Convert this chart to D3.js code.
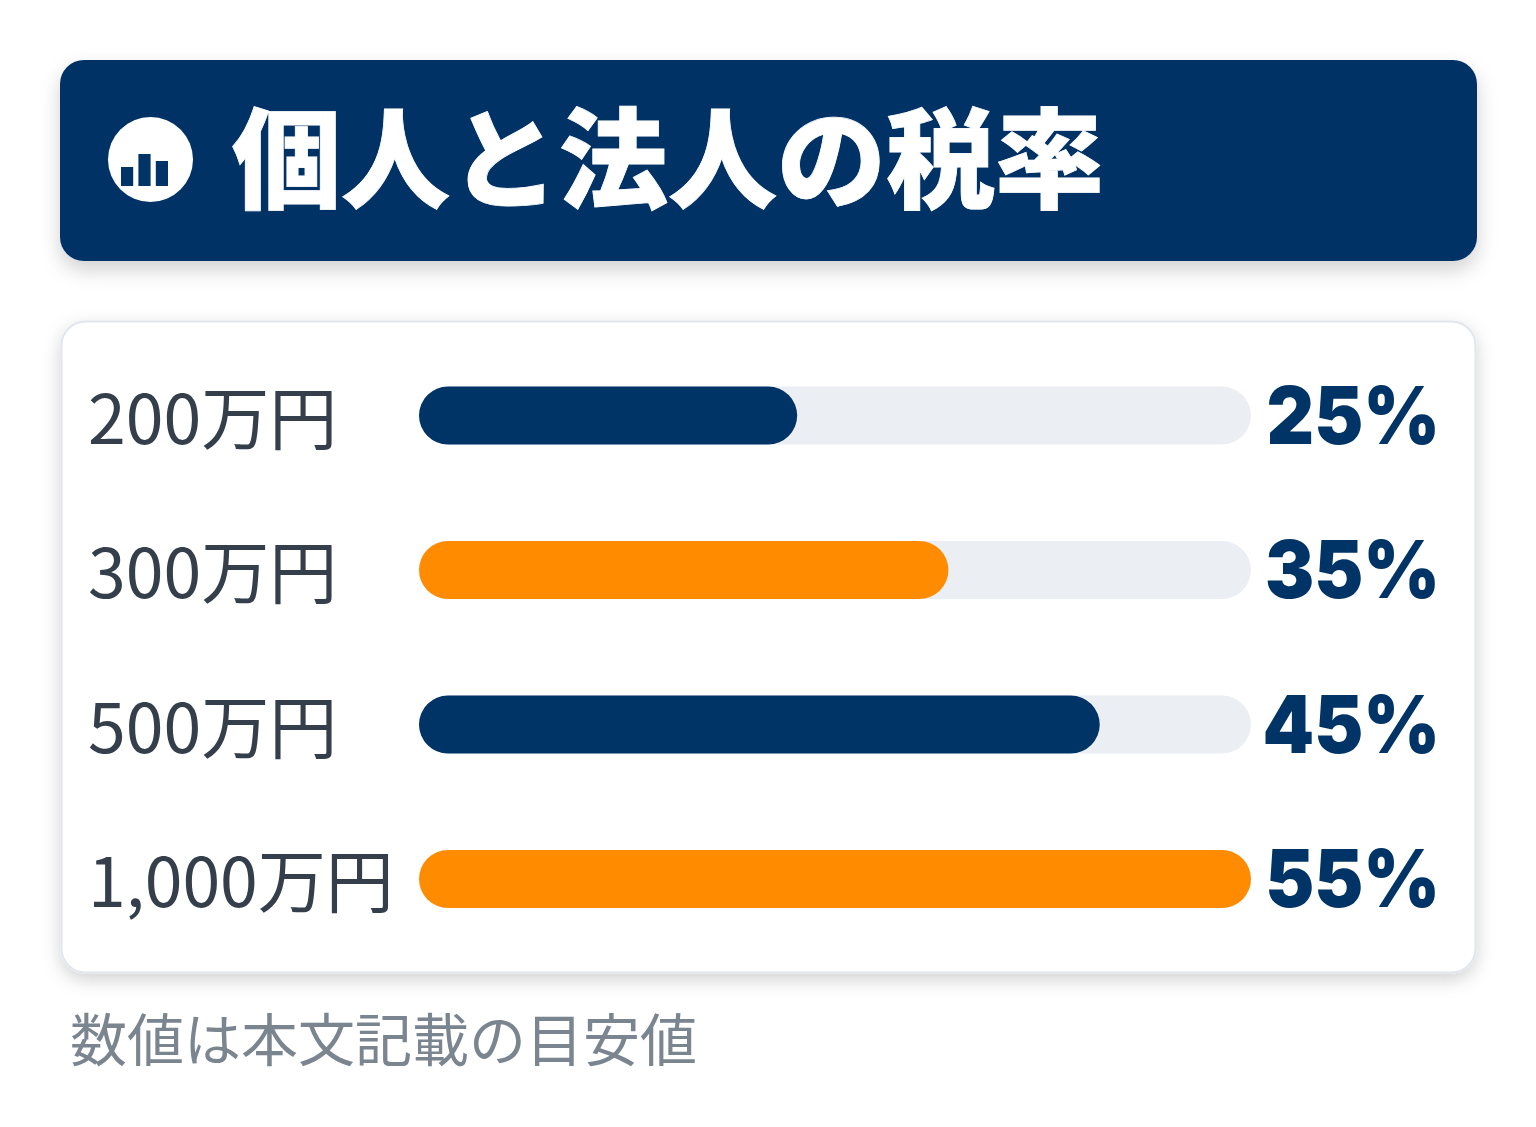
<!DOCTYPE html>
<html lang="ja">
<head>
<meta charset="utf-8">
<script src="https://cdn.jsdelivr.net/npm/d3@7"></script>
<style>
html, body { margin: 0; padding: 0; background: #fff; }
svg { display: block; }
text { font-family: "Noto Sans CJK JP", "Noto Sans", sans-serif; }
</style>
</head>
<body>
<div id="chart"></div>
<script>
var title = "個人と法人の税率";
var note = "数値は本文記載の目安値";
var incomes = ["200万円", "300万円", "500万円", "1,000万円"];
var rates = [25, 35, 45, 55];
var barColors = ["#003366", "#ff8c00", "#003366", "#ff8c00"];
var iconBars = [19, 32, 25];

var navy = "#003366";

var svg = d3.select("#chart").append("svg")
    .attr("width", 1536)
    .attr("height", 1127);

var defs = svg.append("defs");
var headShadow = defs.append("filter").attr("id", "headShadow")
    .attr("x", "-5%").attr("y", "-20%").attr("width", "110%").attr("height", "150%");
headShadow.append("feDropShadow")
    .attr("dx", 0).attr("dy", 9).attr("stdDeviation", 10)
    .attr("flood-color", "#000").attr("flood-opacity", 0.18);
var cardShadow = defs.append("filter").attr("id", "cardShadow")
    .attr("x", "-5%").attr("y", "-10%").attr("width", "110%").attr("height", "120%");
cardShadow.append("feDropShadow")
    .attr("dx", 0).attr("dy", 6).attr("stdDeviation", 9)
    .attr("flood-color", "#000").attr("flood-opacity", 0.18);

// header
svg.append("rect")
    .attr("x", 60).attr("y", 60)
    .attr("width", 1417).attr("height", 201)
    .attr("rx", 24)
    .attr("fill", navy)
    .attr("filter", "url(#headShadow)");

svg.append("circle")
    .attr("cx", 150.5).attr("cy", 159.5).attr("r", 42.5)
    .attr("fill", "#fff");

var iconX = d3.scaleBand().domain(d3.range(iconBars.length)).range([121, 168]).paddingInner(0.3);
svg.selectAll(".iconbar").data(iconBars).enter().append("rect")
    .attr("class", "iconbar")
    .attr("x", function(d, i) { return iconX(i); })
    .attr("y", function(d) { return 186 - d; })
    .attr("width", iconX.bandwidth())
    .attr("height", function(d) { return d; })
    .attr("fill", navy);

svg.append("text")
    .attr("x", 232).attr("y", 200)
    .attr("font-size", 109)
    .attr("font-weight", 900)
    .attr("fill", "#fff")
    .attr("stroke", "#fff")
    .attr("stroke-width", 0.8)
    .text(title);

// card
svg.append("rect")
    .attr("x", 61.5).attr("y", 321.5)
    .attr("width", 1414).attr("height", 651)
    .attr("rx", 24)
    .attr("fill", "#fff")
    .attr("stroke", "#e1e6ed")
    .attr("stroke-width", 2)
    .attr("filter", "url(#cardShadow)");

var x = d3.scaleLinear().domain([0, d3.max(rates)]).range([419, 1251]);
var y = d3.scalePoint().domain(incomes).range([415.5, 879]);
var barH = 58;

var rows = svg.selectAll(".row").data(incomes).enter().append("g")
    .attr("class", "row");

rows.append("text")
    .attr("x", 88)
    .attr("y", function(d) { return y(d) + 28; })
    .attr("font-size", 68)
    .attr("fill", "#343f4b")
    .text(function(d) { return d; });

rows.append("rect")
    .attr("x", x(0))
    .attr("y", function(d) { return y(d) - barH / 2; })
    .attr("width", x(d3.max(rates)) - x(0))
    .attr("height", barH)
    .attr("rx", 29)
    .attr("fill", "#ebeef3");

rows.append("rect")
    .attr("x", x(0))
    .attr("y", function(d) { return y(d) - barH / 2; })
    .attr("width", function(d, i) { return x(rates[i]) - x(0); })
    .attr("height", barH)
    .attr("rx", 29)
    .attr("fill", function(d, i) { return barColors[i]; });

// Inter black set a bit narrow, closest to the heavy figures in the reference
rows.append("text")
    .attr("x", 1440)
    .attr("y", function(d) { return y(d) + 28; })
    .attr("text-anchor", "end")
    .attr("font-size", 80)
    .attr("font-weight", 900)
    .attr("fill", navy)
    .style("font-family", "Inter, sans-serif")
    .text(function(d, i) { return rates[i] + "%"; })
    .each(function() {
        var len = this.getComputedTextLength();
        d3.select(this)
            .attr("textLength", len * 0.92)
            .attr("lengthAdjust", "spacingAndGlyphs");
    });

svg.append("text")
    .attr("x", 70).attr("y", 1061)
    .attr("font-size", 57)
    .attr("fill", "#7b8590")
    .text(note);
</script>
</body>
</html>
